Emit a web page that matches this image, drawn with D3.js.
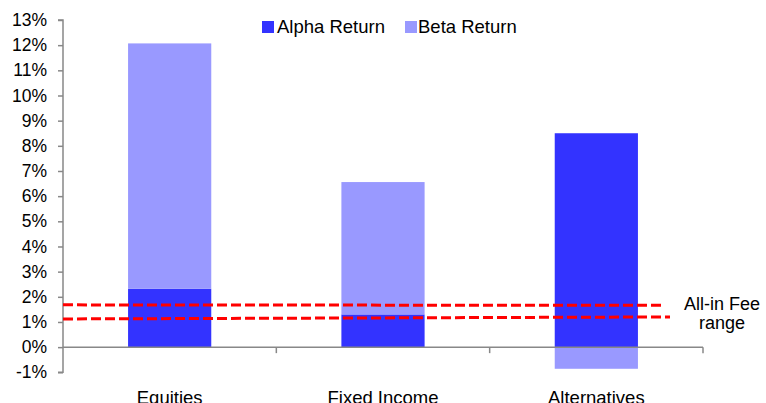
<!DOCTYPE html>
<html>
<head>
<meta charset="utf-8">
<script src="https://cdn.jsdelivr.net/npm/d3@7"></script>
<style>
  html, body { margin: 0; padding: 0; background: #fff; }
  svg { display: block; }
  text { font-family: "Liberation Sans", Arial, sans-serif; fill: #000; }
</style>
</head>
<body>
<script>
// ---- data ----
const categories = ["Equities", "Fixed Income", "Alternatives"];
const seriesNames = ["Alpha Return", "Beta Return"];
const alphaReturn = [2.32, 1.3, 8.5];
const betaReturn = [9.75, 5.26, -0.86];
const yTicks = [-1, 0, 1, 2, 3, 4, 5, 6, 7, 8, 9, 10, 11, 12, 13];
const feeLow = [1.12, 1.2];   // start, end
const feeHigh = [1.68, 1.66]; // start, end
const feeLabel = ["All-in Fee", "range"];

const W = 766, H = 403;
const colors = { "Alpha Return": "#3333FF", "Beta Return": "#9999FF" };

const svg = d3.select("body").append("svg").attr("width", W).attr("height", H);

const x = d3.scaleBand().domain(categories).range([63, 703]).padding(0);
const y = d3.scaleLinear().domain([-1, 13]).range([372.3, 20]);
const barW = x.bandwidth() * 0.39;

const rows = categories.map((c, i) => ({ cat: c, "Alpha Return": alphaReturn[i], "Beta Return": betaReturn[i] }));
const stacked = d3.stack().keys(seriesNames).offset(d3.stackOffsetDiverging)(rows);

// bars
svg.append("g").selectAll("g").data(stacked).join("g")
  .attr("fill", d => colors[d.key])
  .selectAll("rect").data(d => d).join("rect")
  .attr("x", d => x(d.data.cat) + (x.bandwidth() - barW) / 2)
  .attr("width", barW)
  .attr("y", d => y(Math.max(d[0], d[1])))
  .attr("height", d => Math.abs(y(d[0]) - y(d[1])));

// y axis
const yAxis = svg.append("g").attr("transform", "translate(63,0)")
  .call(d3.axisLeft(y).tickValues(yTicks).tickSize(5).tickPadding(11).tickFormat(d => d + "%"));
yAxis.selectAll("path, line").attr("stroke", "#888").attr("stroke-width", 1.5);
yAxis.select("path").attr("d", `M-5,${y(13)}H0V${y(-1)}H-5`);
yAxis.selectAll("text").attr("font-size", "17.5px").attr("font-family", "Liberation Sans, Arial, sans-serif").attr("fill", "#000");

// x axis at zero
const xAxis = svg.append("g").attr("transform", `translate(0,${y(0)})`)
  .call(d3.axisBottom(x).tickSize(0).tickPadding(44));
xAxis.select("path").attr("stroke", "#888").attr("stroke-width", 1.5).attr("d", `M63,0H703`);
xAxis.selectAll("text").attr("font-size", "18.5px").attr("font-family", "Liberation Sans, Arial, sans-serif").attr("fill", "#000");
const bounds = categories.map(c => x(c)).concat([x.range()[1]]);
xAxis.append("g").selectAll("line").data(bounds.slice(1)).join("line")
  .attr("x1", d => d).attr("x2", d => d).attr("y1", 0).attr("y2", 6)
  .attr("stroke", "#888").attr("stroke-width", 1.5);

// fee range lines
const feeLines = [{ v: feeHigh, x2: 664 }, { v: feeLow, x2: 670 }];
svg.append("g").selectAll("line").data(feeLines).join("line")
  .attr("x1", 63).attr("x2", d => d.x2)
  .attr("y1", d => y(d.v[0])).attr("y2", d => y(d.v[1]))
  .attr("stroke", "#FF0000").attr("stroke-width", 3).attr("stroke-dasharray", "10,4");

svg.append("text").attr("x", 722).attr("y", 310).attr("text-anchor", "middle")
  .attr("font-size", "18px").text(feeLabel[0]);
svg.append("text").attr("x", 722).attr("y", 329).attr("text-anchor", "middle")
  .attr("font-size", "18px").text(feeLabel[1]);

// legend
const legendPos = [{ sx: 262, tx: 277 }, { sx: 405, tx: 418 }];
const lg = svg.append("g").selectAll("g").data(seriesNames).join("g");
lg.append("rect").attr("x", (d, i) => legendPos[i].sx).attr("y", 21).attr("width", 12).attr("height", 12)
  .attr("fill", d => colors[d]);
lg.append("text").attr("x", (d, i) => legendPos[i].tx).attr("y", 33).attr("font-size", "18.5px")
  .text(d => d);
</script>
</body>
</html>
